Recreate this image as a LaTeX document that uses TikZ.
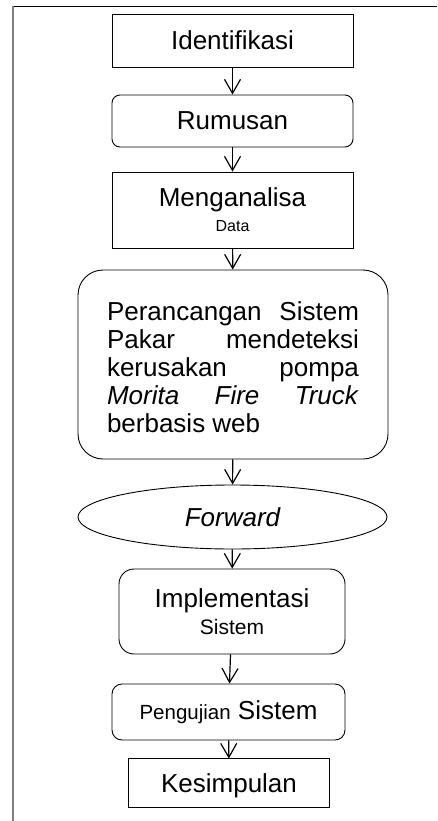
\documentclass[tikz,border=0pt]{standalone}
\usepackage{fontspec}
\setmainfont{Liberation Sans}
\usetikzlibrary{arrows.meta,shapes.geometric}
\begin{document}
\begin{tikzpicture}[x=1pt,y=-1pt,
  box/.style={draw=black, line width=0.9pt, inner sep=0pt, align=center,
    font=\fontsize{26}{25}\selectfont},
  sqbox/.style={box, rectangle},
  rbox/.style={box, rectangle, rounded corners=#1},
  ellbox/.style={box, ellipse, font=\fontsize{26}{28}\selectfont\itshape},
  flow/.style={draw=black, line width=1.2pt,
    -{Straight Barb[length=14pt,width=16pt,line width=1.2pt]}},
  frametop/.style={draw=black, line width=1.3pt},
  frameleft/.style={draw=gray, line width=1.5pt},
]
\useasboundingbox (0,0) rectangle (437,821);

% page frame: top rule and left rule
\coordinate (fTL) at (13,6.5);
\coordinate (fTR) at (437,6.5);
\coordinate (fBL) at (13,821);
\draw[frametop] (fTL) -- (fTR);
\draw[frameleft] (fTL) -- (fBL);

% flow steps
\node[sqbox, minimum width=241pt, minimum height=53pt] (ident) at (232.5,40.5) {Identifikasi};
\node[rbox=8pt, minimum width=241pt, minimum height=52pt] (rumus) at (232.5,121) {Rumusan};
\node[sqbox, minimum width=241pt, minimum height=76pt] (analisa) at (232.5,210)
  {Menganalisa\\{\fontsize{16}{18}\selectfont Data}};
\node[rbox=25pt, minimum width=310pt, minimum height=189pt, align=justify,
  text width=252pt, font=\fontsize{26}{28}\selectfont] (rancang) at (233,364.5)
  {\rule{0pt}{25pt}Perancangan Sistem\linebreak Pakar mendeteksi\linebreak kerusakan pompa\linebreak
   \textit{Morita Fire Truck}\linebreak berbasis web};
\node[ellbox, minimum width=309pt, minimum height=64pt] (fwd) at (232.5,517) {Forward};
\node[rbox=15pt, minimum width=226pt, minimum height=85pt, font=\fontsize{26}{27}\selectfont]
  (impl) at (232,611.5) {Implementasi\\{\fontsize{21}{23}\selectfont Sistem}};
\node[rbox=10pt, minimum width=233pt, minimum height=56pt] (uji) at (228.5,712)
  {{\fontsize{20.5}{22}\selectfont Pengujian} Sistem};

% last step: its text is cut off just above the descenders
\begin{scope}
  \clip (120,750) rectangle (340,797.5);
  \node[sqbox, draw=none, minimum width=200pt, minimum height=48pt, text depth=0pt]
    (simpul) at (229,783) {Kesimpulan};
\end{scope}
\draw[line width=0.9pt] (simpul.north west) rectangle (simpul.south east);

% connectors
\draw[flow] (ident) -- (rumus);
\draw[flow] (rumus) -- (analisa);
\draw[flow] (analisa) -- (rancang);
\draw[flow] (rancang) -- (fwd);
\draw[flow] (fwd) -- (impl);
\draw[flow] (impl) -- (uji);
\draw[flow] (uji) -- (simpul);
\end{tikzpicture}
\end{document}
